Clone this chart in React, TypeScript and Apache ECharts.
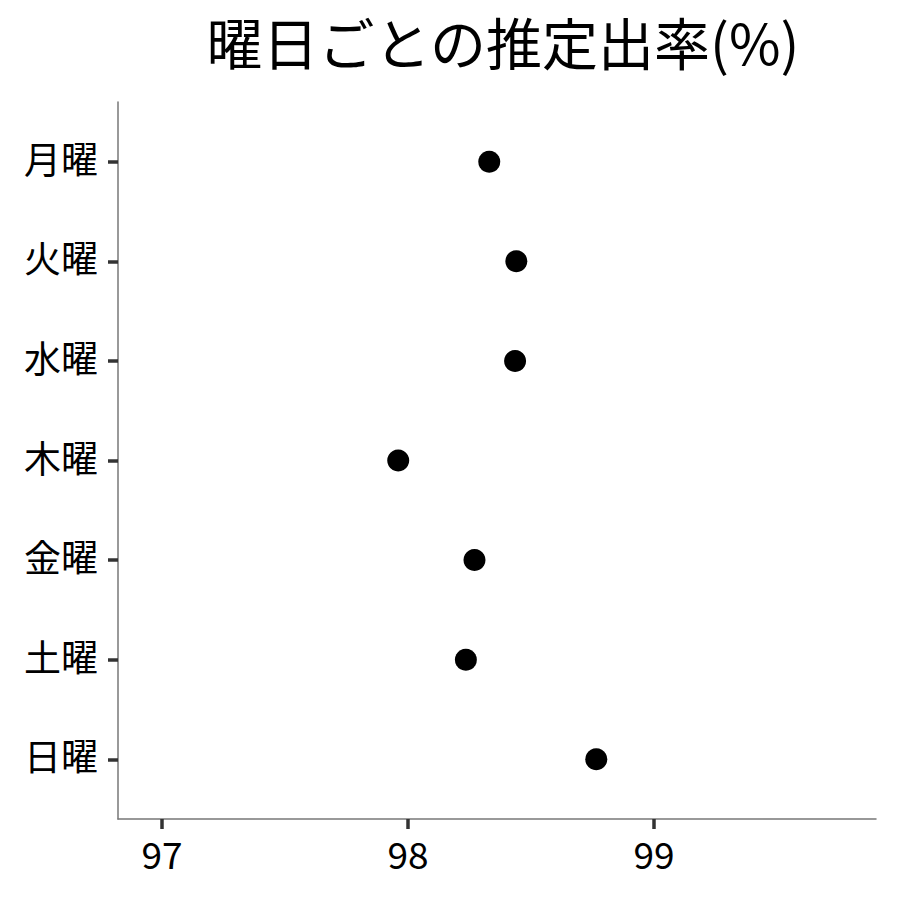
import { useEffect, useRef } from 'react';
import * as echarts from 'echarts';

const days = ['月曜', '火曜', '水曜', '木曜', '金曜', '土曜', '日曜'];
const rates = [98.33, 98.44, 98.435, 97.96, 98.27, 98.235, 98.765];
const xTicks = [97, 98, 99];
const yTicks = [1, 2, 3, 4, 5, 6, 7];

const FONT = '"Noto Sans CJK JP", "Noto Sans", sans-serif';

export default function App() {
  const el = useRef<HTMLDivElement>(null);

  useEffect(() => {
    document.body.style.margin = '0';
    if (!el.current) return;
    const chart = echarts.init(el.current, undefined, { renderer: 'svg' });
    chart.setOption({
      animation: false,
      backgroundColor: '#fff',
      textStyle: { fontFamily: FONT },
      title: {
        text: '曜日ごとの推定出率(%)',
        left: 498,
        textAlign: 'center',
        top: 7,
        textStyle: { fontFamily: FONT, fontSize: 56, fontWeight: 'normal', color: '#000' },
      },
      grid: { left: 118, right: 24, top: 102, bottom: 81 },
      xAxis: {
        type: 'value',
        min: 96.821,
        max: 99.902,
        axisLine: { lineStyle: { color: '#777', width: 1.5 } },
        axisTick: { show: true, length: 10, customValues: xTicks, lineStyle: { color: '#333', width: 3.5 } },
        axisLabel: { customValues: xTicks, fontSize: 37, color: '#000', margin: 15, fontFamily: FONT },
        splitLine: { show: false },
      },
      yAxis: {
        type: 'value',
        inverse: true,
        min: 0.4,
        max: 7.6,
        axisLine: { show: true, lineStyle: { color: '#777', width: 1.5 } },
        axisTick: { show: true, length: 10, customValues: yTicks, lineStyle: { color: '#333', width: 3.5 } },
        axisLabel: {
          customValues: yTicks,
          formatter: (v: number) => `{d|${days[Math.round(v) - 1] ?? ''}}`,
          color: '#000',
          margin: 20,
          rich: {
            d: { fontSize: 37, color: '#000', fontFamily: FONT, padding: [0, 0, 8, 0] },
          },
        },
        splitLine: { show: false },
      },
      series: [
        {
          type: 'scatter',
          symbol: 'circle',
          symbolSize: 22,
          itemStyle: { color: '#000', opacity: 1 },
          data: rates.map((r, i) => [r, i + 1]),
        },
      ],
    });
    return () => chart.dispose();
  }, []);

  return <div ref={el} style={{ width: 900, height: 900 }} />;
}
